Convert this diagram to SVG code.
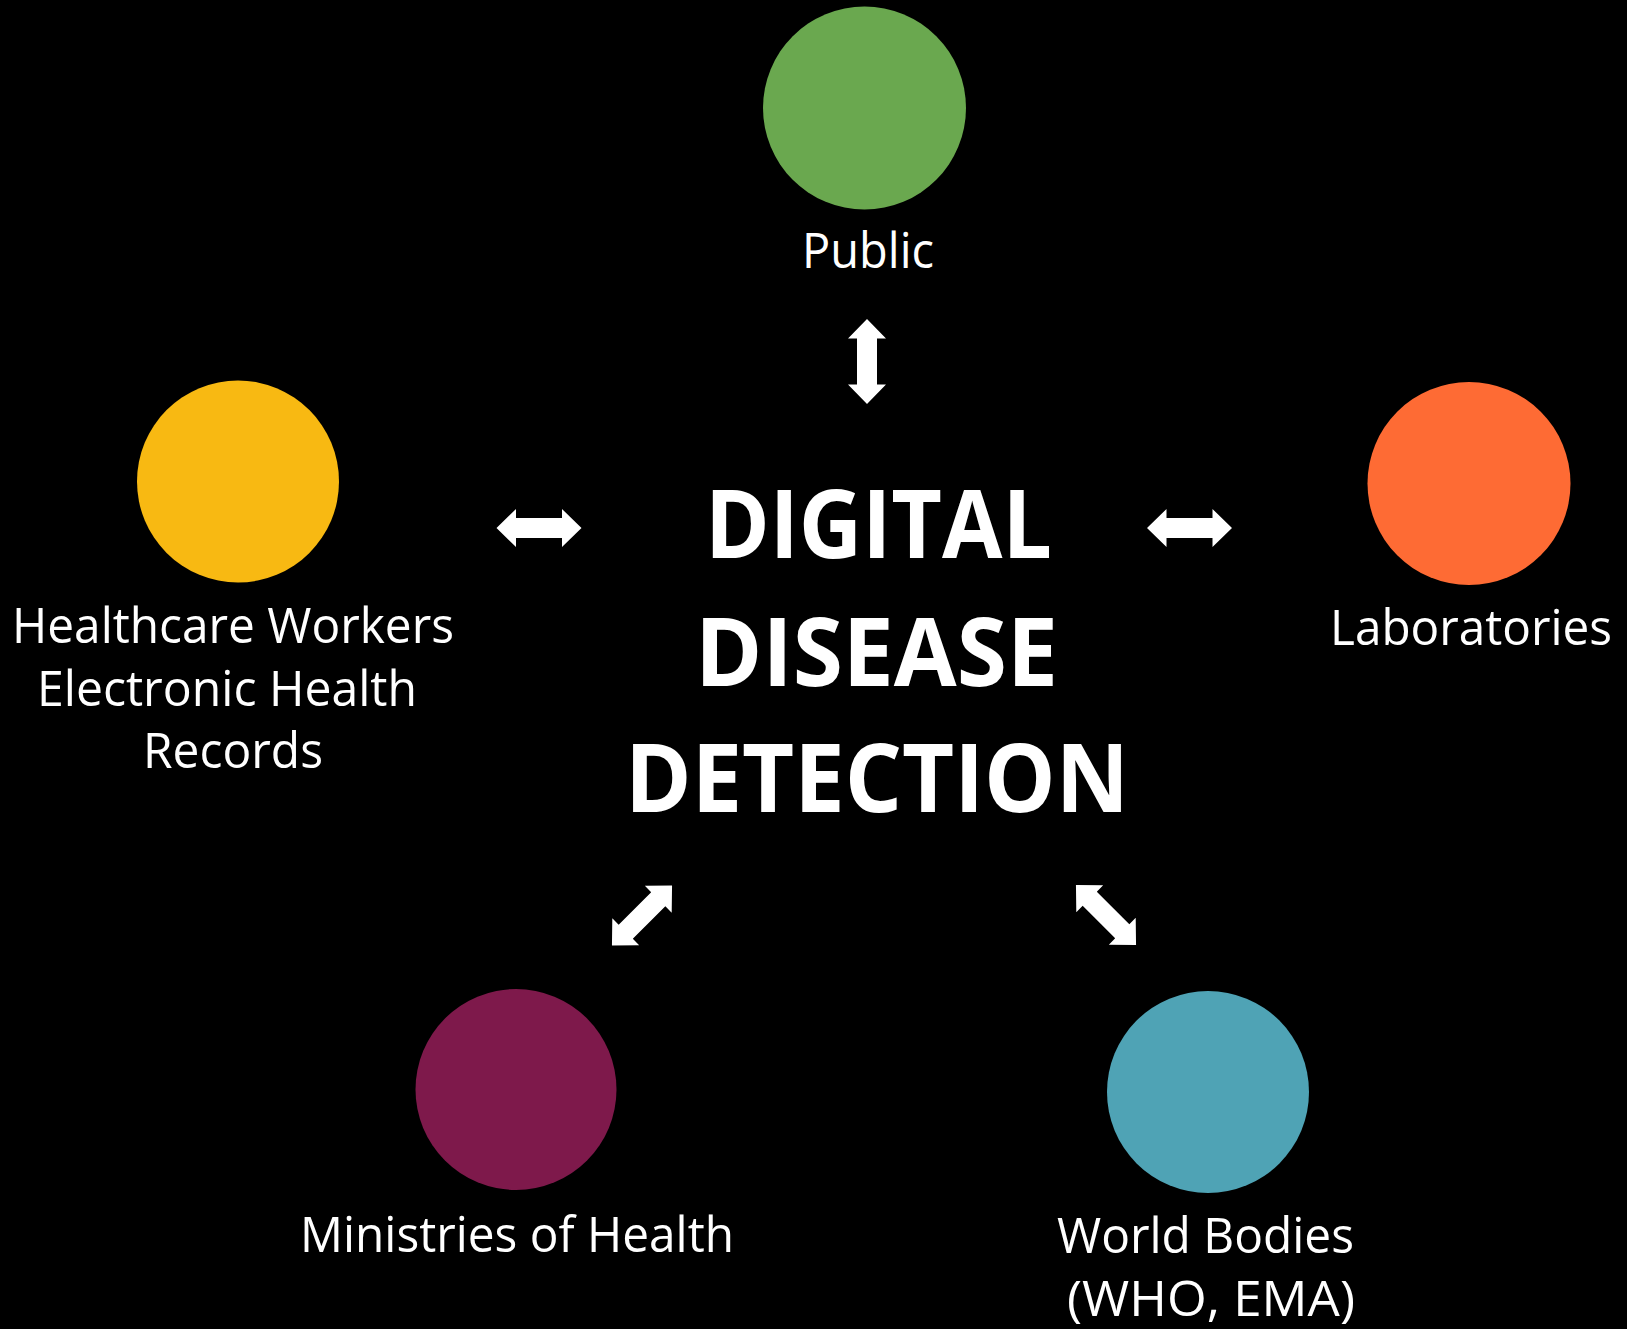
<svg xmlns="http://www.w3.org/2000/svg" xmlns:xlink="http://www.w3.org/1999/xlink" width="1627" height="1329" viewBox="0 0 1627 1329">
<style>
.lbl{font-family:"Open Sans","Noto Sans",sans-serif;font-size:49px;fill:#ffffff}
.ttl{font-family:"Open Sans","Noto Sans",sans-serif;font-size:95px;font-weight:bold;fill:#ffffff}
.arr{fill:#ffffff}
</style>
<defs>
<path id="arr" d="M-42.5,0 L-23,-19 L-23,-10 L23,-10 L23,-19 L42.5,0 L23,19 L23,10 L-23,10 L-23,19 Z"/>
</defs>
<rect x="0" y="0" width="1627" height="1329" fill="#000000"/>
<g id="connectors" class="arr">
<use xlink:href="#arr" href="#arr" transform="translate(867,361.5) rotate(90)"/>
<use xlink:href="#arr" href="#arr" transform="translate(539,528)"/>
<use xlink:href="#arr" href="#arr" transform="translate(1189.5,528)"/>
<use xlink:href="#arr" href="#arr" transform="translate(642,915.5) rotate(-45)"/>
<use xlink:href="#arr" href="#arr" transform="translate(1106,915) rotate(45)"/>
</g>
<g id="center">
<text class="ttl" x="705" y="558" textLength="347" lengthAdjust="spacingAndGlyphs">DIGITAL</text>
<text class="ttl" x="695" y="686" textLength="363" lengthAdjust="spacingAndGlyphs">DISEASE</text>
<text class="ttl" x="625" y="812" textLength="504" lengthAdjust="spacingAndGlyphs">DETECTION</text>
</g>
<g id="public">
<circle cx="864.5" cy="108" r="101.5" fill="#6AA84F"/>
<text class="lbl" x="802" y="268" textLength="132" lengthAdjust="spacingAndGlyphs">Public</text>
</g>
<g id="healthcare">
<circle cx="238" cy="481.5" r="101" fill="#F8B912"/>
<text class="lbl" x="12" y="643" textLength="442" lengthAdjust="spacingAndGlyphs">Healthcare Workers</text>
<text class="lbl" x="37" y="706" textLength="380" lengthAdjust="spacingAndGlyphs">Electronic Health</text>
<text class="lbl" x="143" y="768" textLength="180" lengthAdjust="spacingAndGlyphs">Records</text>
</g>
<g id="laboratories">
<circle cx="1469" cy="483.5" r="101.5" fill="#FE6B34"/>
<text class="lbl" x="1330" y="645" textLength="282" lengthAdjust="spacingAndGlyphs">Laboratories</text>
</g>
<g id="ministries">
<circle cx="516" cy="1089.5" r="100.5" fill="#7E194B"/>
<text class="lbl" x="300" y="1252" textLength="434" lengthAdjust="spacingAndGlyphs">Ministries of Health</text>
</g>
<g id="world">
<circle cx="1208" cy="1092" r="101" fill="#4FA3B5"/>
<text class="lbl" x="1057" y="1253" textLength="297" lengthAdjust="spacingAndGlyphs">World Bodies</text>
<text class="lbl" x="1067" y="1316" textLength="288" lengthAdjust="spacingAndGlyphs">(WHO, EMA)</text>
</g>
</svg>
